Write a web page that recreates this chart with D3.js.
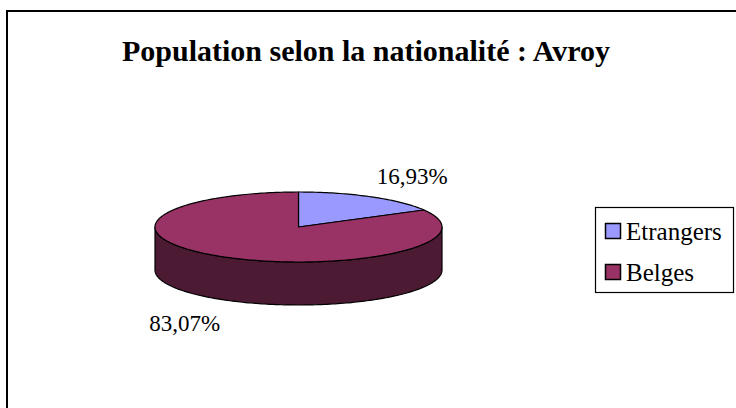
<!DOCTYPE html>
<html>
<head>
<meta charset="utf-8">
<script src="https://cdn.jsdelivr.net/npm/d3@7"></script>
<style>
  body { margin: 0; background: #fff; }
  svg { display: block; }
</style>
</head>
<body>
<svg id="chart" width="736" height="408"></svg>
<script>
// data
const categories = ["Etrangers", "Belges"];
const shares = [16.93, 83.07];
const labels = ["16,93%", "83,07%"];
const topColors = ["#9999ff", "#993366"];
const sideColors = ["#4d4d80", "#4d1a33"];

const cx = 298.5, cy = 227, rx = 143.5, ry = 35, depth = 43;
const serif = "Liberation Serif";

const svg = d3.select("#chart");

// outer frame (runs off the right and bottom edges)
svg.append("rect")
  .attr("x", 7).attr("y", 11)
  .attr("width", 760).attr("height", 420)
  .attr("fill", "#fff").attr("stroke", "#000").attr("stroke-width", 2);

svg.append("text")
  .attr("x", 366).attr("y", 61)
  .attr("text-anchor", "middle")
  .attr("font-family", serif)
  .attr("font-weight", "bold")
  .attr("font-size", 30)
  .text("Population selon la nationalité : Avroy");

const pie = d3.pie().sort(null).value(d => d)
  .startAngle(0).endAngle(2 * Math.PI);
const arcs = pie(shares);

// point on the ellipse, angle clockwise from 12 o'clock
function pt(a, dy) {
  return [cx + rx * Math.sin(a), cy - ry * Math.cos(a) + (dy || 0)];
}
function arcPoints(a0, a1, dy) {
  const n = Math.max(2, Math.ceil(Math.abs(a1 - a0) / 0.02));
  return d3.range(n + 1).map(i => pt(a0 + (a1 - a0) * i / n, dy));
}
const line = d3.line();

// outer walls, only the front half (3 o'clock to 9 o'clock) shows
const walls = svg.append("g");
arcs.forEach((d, i) => {
  const a0 = Math.max(d.startAngle, Math.PI / 2);
  const a1 = Math.min(d.endAngle, 3 * Math.PI / 2);
  if (a1 <= a0) return;
  const pts = arcPoints(a0, a1, 0).concat(arcPoints(a1, a0, depth));
  walls.append("path")
    .attr("d", line(pts) + "Z")
    .attr("fill", sideColors[i])
    .attr("stroke", "#000").attr("stroke-width", 1.2)
    .attr("stroke-linejoin", "round");
});

// top faces
const tops = svg.append("g");
arcs.forEach((d, i) => {
  const pts = [[cx, cy]].concat(arcPoints(d.startAngle, d.endAngle, 0));
  tops.append("path")
    .attr("d", line(pts) + "Z")
    .attr("fill", topColors[i])
    .attr("stroke", "#000").attr("stroke-width", 1.2)
    .attr("stroke-linejoin", "round");
});

// percentage labels outside the pie
arcs.forEach((d, i) => {
  const m = (d.startAngle + d.endAngle) / 2;
  const s = Math.sin(m), c = Math.cos(m);
  const x = cx + (rx + 11) * s;
  const y = cy - (ry + 24) * c + (c < 0 ? depth + 2 : 0);
  svg.append("text")
    .attr("x", x).attr("y", y)
    .attr("dy", "0.35em")
    .attr("text-anchor", s >= 0 ? "start" : "end")
    .attr("font-family", serif)
    .attr("font-size", 23)
    .text(labels[i]);
});

// legend
const legend = svg.append("g");
legend.append("rect")
  .attr("x", 595.5).attr("y", 207.5)
  .attr("width", 138).attr("height", 85)
  .attr("fill", "#fff").attr("stroke", "#000").attr("stroke-width", 1.2);

const ly = d3.scalePoint().domain(categories).range([231, 272]);
categories.forEach((c, i) => {
  legend.append("rect")
    .attr("x", 605.5).attr("y", ly(c) - 7.5)
    .attr("width", 15).attr("height", 15)
    .attr("fill", topColors[i])
    .attr("stroke", "#000").attr("stroke-width", 1.5);
  legend.append("text")
    .attr("x", 626).attr("y", ly(c) + 9)
    .attr("font-family", serif)
    .attr("font-size", 25)
    .text(c);
});
</script>
</body>
</html>
